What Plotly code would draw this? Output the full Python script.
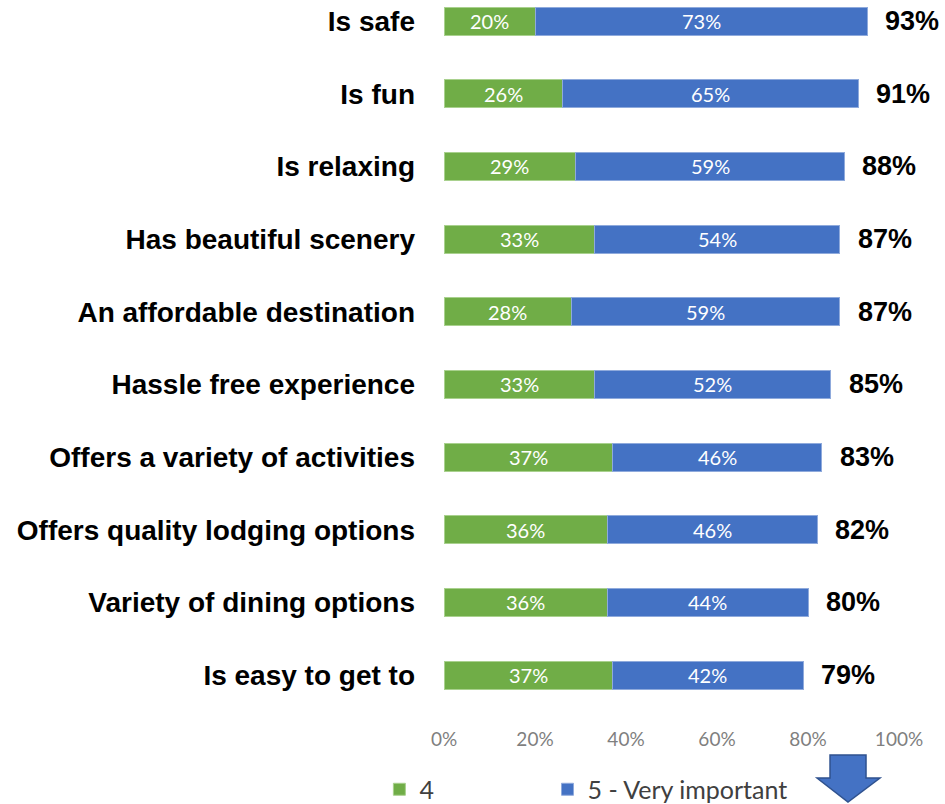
import plotly.graph_objects as go

# Survey: importance of destination attributes (share rating 4 and 5)
categories = [
    "Is safe",
    "Is fun",
    "Is relaxing",
    "Has beautiful scenery",
    "An affordable destination",
    "Hassle free experience",
    "Offers a variety of activities",
    "Offers quality lodging options",
    "Variety of dining options",
    "Is easy to get to",
]
rating_4 = [20, 26, 29, 33, 28, 33, 37, 36, 36, 37]
rating_5 = [73, 65, 59, 54, 59, 52, 46, 46, 44, 42]
totals = [93, 91, 88, 87, 87, 85, 83, 82, 80, 79]
tick_vals = [0, 20, 40, 60, 80, 100]
tick_text = ["0%", "20%", "40%", "60%", "80%", "100%"]

GREEN = "#70AD47"
BLUE = "#4472C4"

fig = go.Figure()
fig.add_trace(go.Bar(
    y=categories, x=rating_4, orientation="h", name="4",
    marker=dict(color=GREEN, line=dict(color="#A9D18E", width=1)),
    hoverinfo="skip", legend="legend",
))
fig.add_trace(go.Bar(
    y=categories, x=rating_5, orientation="h", name="5 - Very important",
    marker=dict(color=BLUE, line=dict(color="#8FAADC", width=1)),
    hoverinfo="skip", legend="legend2",
))

label_font = dict(family="Lato", size=20, color="white")
for cat, g, b, t in zip(categories, rating_4, rating_5, totals):
    fig.add_annotation(x=g / 2, y=cat, text=f"{g}%", showarrow=False,
                       font=label_font, xanchor="center", yanchor="middle")
    fig.add_annotation(x=g + b / 2, y=cat, text=f"{b}%", showarrow=False,
                       font=label_font, xanchor="center", yanchor="middle")
    fig.add_annotation(x=t, y=cat, text=f"{t}%", showarrow=False,
                       xanchor="left", yanchor="middle", xshift=16,
                       font=dict(family="Liberation Sans", size=27,
                                 color="black", weight="bold"))

# Decorative down arrow (paper coordinates)
W_PLOT, H_PLOT, L = 455.0, 726.0, 444.0
def px(x):
    return (x - L) / W_PLOT
def py(y):
    return (H_PLOT - y) / H_PLOT
arrow = [(830, 755), (866, 755), (866, 778), (880, 778), (848, 802),
         (817, 778), (830, 778)]
path = "M " + " L ".join(f"{px(x):.4f},{py(y):.4f}" for x, y in arrow) + " Z"
fig.add_shape(type="path", path=path, xref="paper", yref="paper",
              fillcolor=BLUE, line=dict(color="#2F528F", width=1.5))

legend_style = dict(orientation="h", xanchor="left", y=-0.0875,
                    yanchor="middle", itemwidth=30,
                    font=dict(family="Lato", size=25, color="#404040"),
                    bgcolor="rgba(0,0,0,0)")

fig.update_layout(
    width=945, height=804,
    margin=dict(l=444, r=46, t=0, b=78, autoexpand=False),
    paper_bgcolor="white", plot_bgcolor="white",
    barmode="stack", bargap=0.615,
    showlegend=True,
    legend=dict(x=-0.142, **legend_style),
    legend2=dict(x=0.2275, **legend_style),
    xaxis=dict(range=[0, 100], tickvals=tick_vals, ticktext=tick_text,
               showgrid=False, zeroline=False, showline=False,
               ticks="", tickfont=dict(family="Lato", size=19, color="#7F7F7F")),
    yaxis=dict(type="category", categoryorder="array", categoryarray=categories,
               range=[9.70, -0.29], showgrid=False, zeroline=False,
               showline=False, ticks="", ticklabelstandoff=28,
               tickfont=dict(family="Liberation Sans", size=28, color="black",
                             weight="bold")),
)

fig.write_html("out.html")
